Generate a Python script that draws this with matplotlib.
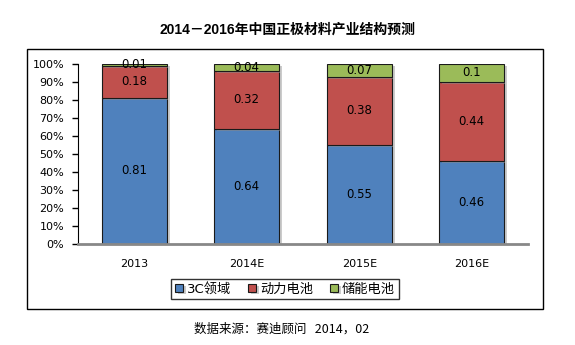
import numpy as np
import matplotlib.pyplot as plt
import matplotlib.patheffects as pe
from matplotlib.patches import Rectangle

plt.rcParams['font.family'] = ['DejaVu Sans', 'Noto Sans CJK SC']

# 数据
years = ['2013', '2014E', '2015E', '2016E']
share_3c = [0.81, 0.64, 0.55, 0.46]
share_power = [0.18, 0.32, 0.38, 0.44]
share_storage = [0.01, 0.04, 0.07, 0.10]
series_names = ['3C领域', '动力电池', '储能电池']
colors = ['#4F81BD', '#C0504D', '#9BBB59']

W, H = 575, 345
fig = plt.figure(figsize=(W / 100, H / 100), dpi=100)

# 外框
fig.patches.append(Rectangle((27 / W, 1 - 309 / H), (543 - 27) / W, (309 - 49) / H,
                             transform=fig.transFigure, fill=False,
                             edgecolor='black', linewidth=1.0))

fig.text(288 / W, 1 - 30 / H, '2014－2016年中国正极材料产业结构预测',
         ha='center', va='center', fontsize=10, fontweight='bold',
         family=['Liberation Sans', 'Noto Sans CJK SC'])

ax = fig.add_axes([78 / W, 1 - 243.5 / H, (528 - 78) / W, (243.5 - 64) / H])

x = np.arange(len(years))
bw = 0.58
shadow = [pe.SimplePatchShadow(offset=(2, -1.5), shadow_rgbFace='#999999', alpha=0.5), pe.Normal()]
bottom = np.zeros(len(years))
bars = []
for vals, col, name in zip([share_3c, share_power, share_storage], colors, series_names):
    b = ax.bar(x, vals, bw, bottom=bottom, color=col, edgecolor='#1a1a1a',
               linewidth=0.8, label=name, zorder=3)
    for rect in b:
        rect.set_path_effects(shadow)
    for xi, v, b0 in zip(x, vals, bottom):
        ax.text(xi, b0 + v / 2, f'{v:g}', ha='center', va='center',
                fontsize=8.5, color='black', zorder=5)
    bottom = bottom + np.array(vals)
    bars.append(b)

ax.set_xlim(-0.5, len(years) - 0.5)
ax.set_ylim(0, 1)
ax.set_yticks(np.arange(0, 1.01, 0.1))
ax.set_yticklabels([f'{int(round(t * 100))}%' for t in np.arange(0, 1.01, 0.1)], fontsize=8)
ax.set_xticks(x)
ax.set_xticklabels(years, fontsize=8)
ax.tick_params(axis='x', length=0, pad=11)
ax.tick_params(axis='y', direction='out', length=4, width=1, pad=6)
for s in ['top', 'right']:
    ax.spines[s].set_visible(False)
ax.spines['left'].set_color('black')
ax.spines['bottom'].set_color('#888888')
ax.spines['bottom'].set_linewidth(2)
ax.spines['bottom'].set_zorder(4)

leg = fig.legend(handles=bars, labels=series_names, loc='center',
                 bbox_to_anchor=(285 / W, 1 - 289 / H), ncol=3, fontsize=9.5,
                 frameon=True, fancybox=False, edgecolor='black',
                 handlelength=0.6, handleheight=0.6, handletextpad=0.3,
                 columnspacing=1.3, borderpad=0.3)
leg.get_frame().set_linewidth(1.0)

fig.text(282 / W, 1 - 329 / H, '数据来源：赛迪顾问   2014，02',
         ha='center', va='center', fontsize=9,
         family=['Noto Sans CJK SC', 'DejaVu Sans'])

fig.savefig('out.png', dpi=100)
